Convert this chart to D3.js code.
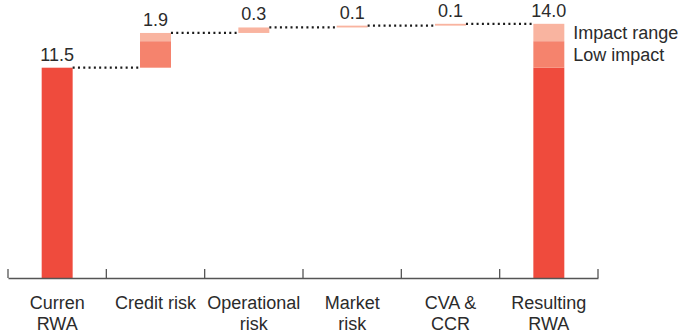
<!DOCTYPE html>
<html>
<head>
<meta charset="utf-8">
<script src="https://cdn.jsdelivr.net/npm/d3@7"></script>
<style>
  body { margin: 0; background: #fff; }
  text { font-family: "Liberation Sans", Arial, sans-serif; fill: #2b2b2b; }
</style>
</head>
<body>
<div id="chart"></div>
<script>
// waterfall data
const categories = ["Curren RWA", "Credit risk", "Operational risk", "Market risk", "CVA & CCR", "Resulting RWA"];
const labelLines = [["Curren", "RWA"], ["Credit risk"], ["Operational", "risk"], ["Market", "risk"], ["CVA &", "CCR"], ["Resulting", "RWA"]];
const baseValue = 11.5;
const lowImpact = [0, 1.45, 0, 0, 0];      // per step, start bar has none
const impactRange = [0, 0.45, 0.3, 0.1, 0.1];
const valueLabels = ["11.5", "1.9", "0.3", "0.1", "0.1", "14.0"];
const legendLabels = ["Impact range", "Low impact"];

const colors = { base: "#ef4b3d", low: "#f5836d", range: "#f9b4a0" };

const W = 693, H = 334;
const axisY = 278;

const svg = d3.select("#chart").append("svg")
  .attr("width", W)
  .attr("height", H);

const x = d3.scaleBand()
  .domain(categories)
  .range([8, 598])
  .padding(0);

const y = d3.scaleLinear()
  .domain([0, 11.5])
  .range([axisY, 67.7]);

const barW = x.bandwidth() * 0.315;

// build segments
const segs = [];
const tops = [];
let cum = baseValue;
segs.push({ cat: categories[0], y0: 0, y1: baseValue, color: colors.base });
tops.push(baseValue);
for (let i = 1; i < 5; i++) {
  if (lowImpact[i] > 0) {
    segs.push({ cat: categories[i], y0: cum, y1: cum + lowImpact[i], color: colors.low });
  }
  const s = cum + lowImpact[i];
  segs.push({ cat: categories[i], y0: s, y1: s + impactRange[i], color: colors.range });
  cum = s + impactRange[i];
  tops.push(cum);
}
const lowTotal = d3.sum(lowImpact);
const rangeTotal = d3.sum(impactRange);
const resCat = categories[5];
const resSegs = [
  { cat: resCat, y0: 0, y1: baseValue, color: colors.base },
  { cat: resCat, y0: baseValue, y1: baseValue + lowTotal, color: colors.low },
  { cat: resCat, y0: baseValue + lowTotal, y1: baseValue + lowTotal + rangeTotal, color: colors.range }
];
segs.push(...resSegs);
tops.push(baseValue + lowTotal + rangeTotal);

// bars
svg.selectAll(".seg")
  .data(segs)
  .enter()
  .append("rect")
  .attr("class", "seg")
  .attr("x", d => x(d.cat) + (x.bandwidth() - barW) / 2)
  .attr("y", d => y(d.y1))
  .attr("width", barW)
  .attr("height", d => y(d.y0) - y(d.y1))
  .attr("fill", d => d.color);

// dotted connectors
const links = d3.range(5).map(i => ({ from: categories[i], to: categories[i + 1], v: tops[i] }));
svg.selectAll(".link")
  .data(links)
  .enter()
  .append("line")
  .attr("class", "link")
  .attr("x1", d => x(d.from) + (x.bandwidth() + barW) / 2)
  .attr("x2", d => x(d.to) + (x.bandwidth() - barW) / 2)
  .attr("y1", d => y(d.v))
  .attr("y2", d => y(d.v))
  .attr("stroke", "#1a1a1a")
  .attr("stroke-width", 2.2)
  .attr("stroke-dasharray", "2,3.3");

// value labels
svg.selectAll(".val")
  .data(categories)
  .enter()
  .append("text")
  .attr("class", "val")
  .attr("x", d => x(d) + x.bandwidth() / 2)
  .attr("y", (d, i) => y(tops[i]) - 7)
  .attr("text-anchor", "middle")
  .style("font-size", "18px")
  .text((d, i) => valueLabels[i]);

// legend next to resulting bar
const legendRows = [
  { text: legendLabels[0], mid: (resSegs[2].y0 + resSegs[2].y1) / 2 },
  { text: legendLabels[1], mid: (resSegs[1].y0 + resSegs[1].y1) / 2 }
];
svg.selectAll(".leg")
  .data(legendRows)
  .enter()
  .append("text")
  .attr("class", "leg")
  .attr("x", x(resCat) + (x.bandwidth() + barW) / 2 + 9)
  .attr("y", d => y(d.mid))
  .attr("dy", "0.36em")
  .style("font-size", "18px")
  .text(d => d.text);

// axis
const axis = svg.append("g")
  .attr("transform", "translate(0," + axisY + ")")
  .call(d3.axisBottom(x).tickSize(0).tickFormat(""));
axis.select(".domain").attr("stroke", "#555").attr("stroke-width", 1.3);

const bounds = categories.map(c => x(c)).concat([x.range()[1]]);
svg.selectAll(".tick-up")
  .data(bounds)
  .enter()
  .append("line")
  .attr("x1", d => d)
  .attr("x2", d => d)
  .attr("y1", axisY)
  .attr("y2", axisY - 9)
  .attr("stroke", "#555")
  .attr("stroke-width", 1.3);

const catText = svg.selectAll(".cat")
  .data(categories)
  .enter()
  .append("text")
  .attr("class", "cat")
  .attr("x", d => x(d) + x.bandwidth() / 2)
  .attr("y", 309)
  .attr("text-anchor", "middle")
  .style("font-size", "18px");

catText.each(function (d, i) {
  const t = d3.select(this);
  labelLines[i].forEach((line, j) => {
    t.append("tspan")
      .attr("x", x(d) + x.bandwidth() / 2)
      .attr("dy", j === 0 ? 0 : 21)
      .text(line);
  });
});
</script>
</body>
</html>
